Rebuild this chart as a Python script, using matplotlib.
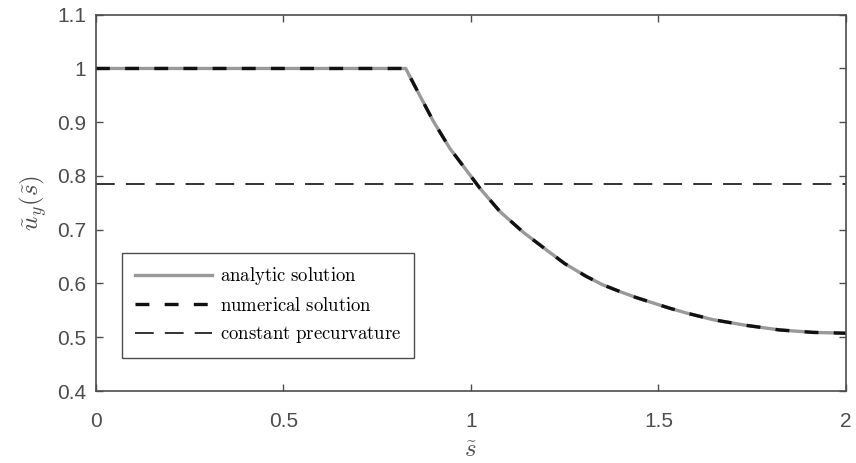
import numpy as np
import matplotlib
matplotlib.use("Agg")
import matplotlib.pyplot as plt

# Curve values (analytic and numerical coincide).
s_vals = [0.0, 0.826, 0.855, 0.8995, 0.944, 0.9885, 1.024, 1.077, 1.140,
          1.206, 1.250, 1.308, 1.350, 1.397, 1.440, 1.486, 1.530, 1.575,
          1.646, 1.735, 1.824, 1.913, 2.0]
u_vals = [1.0, 1.0, 0.961, 0.902, 0.851, 0.810, 0.777, 0.734, 0.695,
          0.660, 0.637, 0.613, 0.598, 0.585, 0.574, 0.5637, 0.554, 0.545,
          0.5326, 0.522, 0.5135, 0.509, 0.5075]

# Constant precurvature level.
s_const = [0.0, 2.0]
u_const = [0.785, 0.785]

x_ticks = [0, 0.5, 1, 1.5, 2]
x_labels = ["0", "0.5", "1", "1.5", "2"]
y_ticks = [0.4, 0.5, 0.6, 0.7, 0.8, 0.9, 1.0, 1.1]
y_labels = ["0.4", "0.5", "0.6", "0.7", "0.8", "0.9", "1", "1.1"]

plt.rcParams["mathtext.fontset"] = "cm"
plt.rcParams["lines.scale_dashes"] = False
plt.rcParams["font.family"] = ["Liberation Sans", "DejaVu Sans"]

axis_color = "#4d4d4d"

fig = plt.figure(figsize=(8.56, 4.63), dpi=100)
ax = fig.add_axes([0.1121, 0.1555, 0.8762, 0.8127])

ax.plot(s_vals, u_vals, color="#999999", linewidth=2.4,
    label=r"$\mathrm{analytic\ solution}$")
ax.plot(s_vals, u_vals, color="#111111", linewidth=2.4,
    dashes=(10, 11), label=r"$\mathrm{numerical\ solution}$")
ax.plot(s_const, u_const, color="#111111", linewidth=1.2,
    dashes=(13.5, 8), label=r"$\mathrm{constant\ precurvature}$")

ax.set_xlim(0, 2)
ax.set_ylim(0.4, 1.1)
ax.set_xticks(x_ticks)
ax.set_xticklabels(x_labels)
ax.set_yticks(y_ticks)
ax.set_yticklabels(y_labels)
ax.tick_params(direction="in", length=5, width=1, colors=axis_color,
    labelsize=15, top=True, right=True, pad=7)
ax.tick_params(axis="x", pad=15)
for spine in ax.spines.values():
    spine.set_color(axis_color)
    spine.set_linewidth(1.2)

ax.set_xlabel(r"$\tilde{s}$", fontsize=18, color=axis_color, labelpad=5)
ax.set_ylabel(r"$\tilde{u}_y(\tilde{s})$", fontsize=18, color=axis_color,
    labelpad=6)

leg = ax.legend(loc="lower left", bbox_to_anchor=(0.035, 0.088),
    borderaxespad=0, fontsize=13.5, handlelength=4.1, handletextpad=0.42,
    labelspacing=0.5, borderpad=0.68, fancybox=False, framealpha=1)
leg.get_frame().set_edgecolor(axis_color)
leg.get_frame().set_linewidth(1.0)

fig.savefig("out.png", dpi=100)
